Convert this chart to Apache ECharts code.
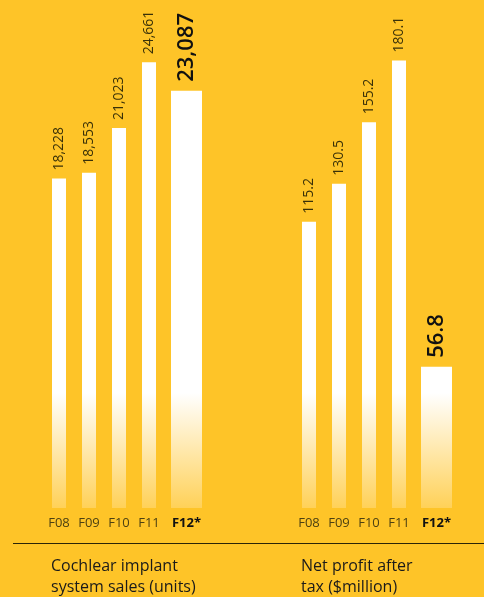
<!DOCTYPE html>
<html>
<head>
<meta charset="utf-8">
<style>
  html, body { margin: 0; padding: 0; background: #FEC428; }
  #chart { width: 484px; height: 597px; }
</style>
<script src="https://cdn.jsdelivr.net/npm/echarts@6/dist/echarts.min.js"></script>
</head>
<body>
<div id="chart"></div>
<script>
// Fiscal years; the last one is the highlighted current year
const years = ['F08', 'F09', 'F10', 'F11', 'F12*'];
// Cochlear implant system sales (units)
const unitSales = [18228, 18553, 21023, 24661, 23087];
// Net profit after tax ($million)
const netProfit = [115.2, 130.5, 155.2, 180.1, 56.8];

const FONT = '"Open Sans", "Noto Sans", sans-serif';
const BG = '#FEC428';

// White bars that fade into the background toward the baseline
const barFill = new echarts.graphic.LinearGradient(0, 393, 0, 508, [
  { offset: 0, color: '#ffffff' },
  { offset: 1, color: '#FFD158' }
], true);

const fmtUnits = v => v.toLocaleString('en-US');
const fmtProfit = v => v.toFixed(1);

const chart = echarts.init(document.getElementById('chart'));

// Each panel: one grid for the four history bars, one for the highlighted year
function panel(idx, hist, cur, fmt, yMax, top, height, histLeft, curLeft) {
  const grids = [
    { left: histLeft, width: 120, top: top, height: height },
    { left: curLeft, width: 40, top: top, height: height }
  ];
  const xAxes = [
    { gridIndex: idx * 2, type: 'category', data: years.slice(0, 4) },
    { gridIndex: idx * 2 + 1, type: 'category', data: years.slice(4) }
  ].map((a, i) => Object.assign(a, {
    axisLine: { show: false }, axisTick: { show: false },
    axisLabel: {
      margin: 9, fontFamily: FONT, fontSize: 13,
      color: i === 0 ? '#4d4112' : '#111',
      fontWeight: i === 0 ? 'normal' : 'bold'
    }
  }));
  const yAxes = [0, 1].map(i => ({
    gridIndex: idx * 2 + i, type: 'value', min: 0, max: yMax,
    show: false, splitLine: { show: false }
  }));
  const series = [
    {
      type: 'bar', xAxisIndex: idx * 2, yAxisIndex: idx * 2, data: hist,
      barWidth: 14, itemStyle: { color: barFill },
      label: {
        show: true, position: 'top', rotate: 90, align: 'left',
        verticalAlign: 'middle', distance: 8, fontFamily: FONT,
        fontSize: 14, color: '#3a3108', formatter: p => fmt(p.value)
      }
    },
    {
      type: 'bar', xAxisIndex: idx * 2 + 1, yAxisIndex: idx * 2 + 1, data: cur,
      barWidth: 31, itemStyle: { color: barFill },
      label: {
        show: true, position: 'top', rotate: 90, align: 'left',
        verticalAlign: 'middle', distance: 9, fontFamily: FONT,
        fontSize: 22, fontWeight: 600, color: '#111', formatter: p => fmt(p.value)
      }
    }
  ];
  return { grids, xAxes, yAxes, series };
}

const left = panel(0, unitSales.slice(0, 4), unitSales.slice(4), fmtUnits, 28000, 2, 506, 44, 166.5);
const right = panel(1, netProfit.slice(0, 4), netProfit.slice(4), fmtProfit, 200, 11, 497, 294, 416.5);

chart.setOption({
  backgroundColor: BG,
  animation: false,
  grid: left.grids.concat(right.grids),
  xAxis: left.xAxes.concat(right.xAxes),
  yAxis: left.yAxes.concat(right.yAxes),
  series: left.series.concat(right.series),
  graphic: [
    {
      type: 'line', shape: { x1: 13, y1: 543.5, x2: 484, y2: 543.5 },
      style: { stroke: '#2a2408', lineWidth: 1.2 }
    },
    {
      type: 'text', left: 51, top: 556,
      style: { text: 'Cochlear implant\nsystem sales (units)', font: '16px ' + FONT, fill: '#1a1a1a', lineHeight: 21 }
    },
    {
      type: 'text', left: 301, top: 556,
      style: { text: 'Net profit after\ntax ($million)', font: '16px ' + FONT, fill: '#1a1a1a', lineHeight: 21 }
    }
  ]
});
</script>
</body>
</html>
